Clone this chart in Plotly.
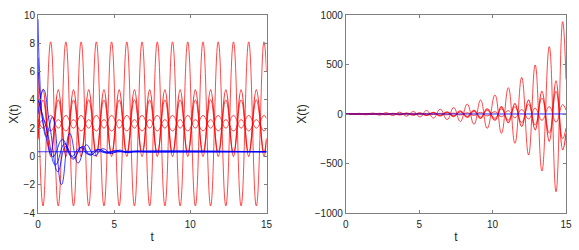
import plotly.graph_objects as go

# ---------------- Left panel (stable case) ----------------
# extremum times shared by the periodic red trajectories
t_left_red = [0.0, 0.33, 0.83, 1.33, 1.83, 2.33, 2.83, 3.33, 3.83, 4.33, 4.83, 5.33, 5.83,
              6.33, 6.83, 7.33, 7.83, 8.33, 8.83, 9.33, 9.83, 10.33, 10.83, 11.33, 11.83,
              12.33, 12.83, 13.33, 13.83, 14.33, 14.83, 15.0]
red_A = [6.0, -3.5, 8.1, -3.5, 8.1, -3.5, 8.1, -3.5, 8.1, -3.5, 8.1, -3.5, 8.1, -3.5, 8.1,
         -3.5, 8.1, -3.5, 8.1, -3.5, 8.1, -3.5, 8.1, -3.5, 8.1, -3.5, 8.1, -3.5, 8.1, -3.5, 8.1, 6.0]
red_B = [1.2, 4.7, 0.0, 4.7, 0.0, 4.7, 0.0, 4.7, 0.0, 4.7, 0.0, 4.7, 0.0, 4.7, 0.0,
         4.7, 0.0, 4.7, 0.0, 4.7, 0.0, 4.7, 0.0, 4.7, 0.0, 4.7, 0.0, 4.7, 0.0, 4.7, 0.0, 1.2]
red_C = [1.3, 4.0, 0.3, 4.0, 0.3, 4.0, 0.3, 4.0, 0.3, 4.0, 0.3, 4.0, 0.3, 4.0, 0.3,
         4.0, 0.3, 4.0, 0.3, 4.0, 0.3, 4.0, 0.3, 4.0, 0.3, 4.0, 0.3, 4.0, 0.3, 4.0, 0.3, 1.3]
red_D = [2.67, 2.0, 2.9, 2.0, 2.9, 2.0, 2.9, 2.0, 2.9, 2.0, 2.9, 2.0, 2.9, 2.0, 2.9,
         2.0, 2.9, 2.0, 2.9, 2.0, 2.9, 2.0, 2.9, 2.0, 2.9, 2.0, 2.9, 2.0, 2.9, 2.0, 2.9, 2.67]
red_E = [2.0, 2.6, 1.8, 2.6, 1.8, 2.6, 1.8, 2.6, 1.8, 2.6, 1.8, 2.6, 1.8, 2.6, 1.8,
         2.6, 1.8, 2.6, 1.8, 2.6, 1.8, 2.6, 1.8, 2.6, 1.8, 2.6, 1.8, 2.6, 1.8, 2.6, 1.8, 2.0]

# blue (damped) trajectories
t_blue1 = [0, 0.1, 0.3, 0.55, 0.95, 1.54, 2.08, 2.63, 3.17, 3.72, 4.26, 4.8, 5.35, 5.9, 6.45, 7.2, 8.5, 15]
v_blue1 = [9.7, 6.0, 2.6, 1.4, 2.8, -2.0, 1.63, -0.47, 0.82, 0.05, 0.55, 0.2, 0.45, 0.26, 0.38, 0.31, 0.33, 0.33]
t_blue2 = [0, 0.35, 0.8, 1.3, 1.82, 2.35, 2.9, 3.45, 4.0, 4.55, 5.1, 5.7, 6.5, 15]
v_blue2 = [3.0, 4.75, 2.0, -1.08, 0.7, -0.1, 0.7, 0.1, 0.5, 0.22, 0.42, 0.28, 0.34, 0.33]
t_blue3 = [0, 0.15, 0.45, 0.99, 1.6, 2.2, 2.75, 3.3, 3.85, 4.4, 5.0, 6.0, 15]
v_blue3 = [7.0, 4.0, 1.8, -0.02, 1.2, 0.0, 0.62, 0.15, 0.48, 0.25, 0.38, 0.33, 0.33]
t_blue4 = [0, 0.6, 1.15, 1.75, 2.3, 2.85, 3.4, 4.0, 4.6, 5.5, 15]
v_blue4 = [4.0, 1.8, -0.6, 0.9, -0.2, 0.65, 0.1, 0.5, 0.25, 0.35, 0.33]
t_blue5 = [0, 15]
v_blue5 = [0.33, 0.33]

# ---------------- Right panel (unstable case) ----------------
t_right_red = [0.0, 0.46, 0.92, 1.37, 1.83, 2.3, 2.75, 3.2, 3.67, 4.13, 4.6, 5.05, 5.5, 5.97,
               6.43, 6.9, 7.35, 7.8, 8.27, 8.73, 9.18, 9.63, 10.16, 10.6, 11.07, 11.52, 11.98,
               12.45, 12.9, 13.36, 13.86, 14.32, 14.77, 15.0]
red_R1 = [5, -6, 7, -9, 10, -12, 14, -16, 19, -22, 26, -30, 35, -41, 48, -56, 65, -76, 100,
          -104, 141, -145, 192, -195, 266, -296, 370, -414, 495, -576, 680, -785, 932, 350]
red_R2 = [-2, 3, -3, 4, -4, 5, -6, 7, -8, 9, -10, 12, -14, 16, -19, 22, -26, 31, -34,
          37, -44, 52, -62, 73, -88, 105, -125, 141, -160, 228, -275, 335, -360, -200]
red_R3 = [-1, 2, -2, 3, -3, 4, -4, 5, -6, 6, -7, 8, -10, 11, -13, 15, -18, 21, -24,
          26, -31, 36, -43, 51, -62, 74, -88, 99, -112, 160, -193, 230, -250, -140]
red_R4 = [1, -1, 1, -1, 2, -2, 2, -2, 3, -3, 4, -4, 5, -6, 7, -8, 9, -10, 12,
          -14, 17, -20, 24, -27, 33, -38, 45, -50, 58, -64, 75, -82, 95, 40]
t_right_blue = [0, 15]
v_right_blue = [0.3, 0.3]

RED = "rgba(255,0,0,0.8)"
BLUE = "rgba(0,0,255,0.85)"

fig = go.Figure()

def add(x, y, color, width, xa, ya):
    fig.add_trace(go.Scatter(x=x, y=y, mode="lines",
                             line=dict(color=color, width=width, shape="spline", smoothing=1.3),
                             xaxis=xa, yaxis=ya, showlegend=False, hoverinfo="skip"))

for v, w in [(red_A, 0.9), (red_B, 1.3), (red_C, 0.9), (red_D, 0.9), (red_E, 0.9)]:
    add(t_left_red, v, RED, w, "x", "y")
for tt, vv in [(t_blue1, v_blue1), (t_blue2, v_blue2), (t_blue3, v_blue3), (t_blue4, v_blue4), (t_blue5, v_blue5)]:
    add(tt, vv, BLUE, 0.9, "x", "y")

for v, w in [(red_R1, 0.9), (red_R2, 1.3), (red_R3, 0.9), (red_R4, 0.9)]:
    add(t_right_red, v, RED, w, "x2", "y2")
add(t_right_blue, v_right_blue, BLUE, 1.0, "x2", "y2")

W, H = 579, 250
L, R, T, B = 38.3, 13, 15, 37
PW = W - L - R
tickfont = dict(family="Liberation Sans, Arial, sans-serif", size=10, color="#262626")
titlefont = dict(family="Liberation Sans, Arial, sans-serif", size=12, color="#262626")
axcommon = dict(showgrid=False, zeroline=False, showline=True, linecolor="#7f7f7f", linewidth=1,
                mirror="ticks", ticks="inside", ticklen=3, tickcolor="#7f7f7f",
                tickfont=tickfont, automargin=False)

fig.update_layout(
    width=W, height=H, margin=dict(l=L, r=R, t=T, b=B, pad=0),
    paper_bgcolor="white", plot_bgcolor="white",
    xaxis=dict(domain=[0, (266.7 - L) / PW], range=[0, 15], tickvals=[0, 5, 10, 15],
               anchor="y", ticklabelstandoff=2,
               title=dict(text="t", font=titlefont, standoff=3), **axcommon),
    yaxis=dict(domain=[0, 1], range=[-4, 10], tickvals=[-4, -2, 0, 2, 4, 6, 8, 10], anchor="x",
               title=dict(text="X(t)", font=titlefont, standoff=2), **axcommon),
    xaxis2=dict(domain=[(346 - L) / PW, 1], range=[0, 15], tickvals=[0, 5, 10, 15],
                anchor="y2", ticklabelstandoff=2,
                title=dict(text="t", font=titlefont, standoff=3), **axcommon),
    yaxis2=dict(domain=[0, 1], range=[-1000, 1000], tickvals=[-1000, -500, 0, 500, 1000], anchor="x2",
                title=dict(text="X(t)", font=titlefont, standoff=5), **axcommon),
)

fig.write_html("out.html", config={"displayModeBar": False},
               post_script="document.body.style.margin='0';document.body.style.overflow='hidden';")
